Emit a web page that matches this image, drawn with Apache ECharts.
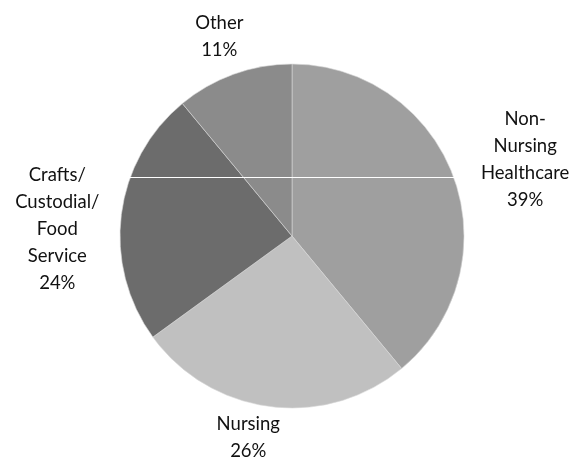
<!DOCTYPE html>
<html>
<head>
<meta charset="utf-8">
<script src="https://cdn.jsdelivr.net/npm/echarts@6/dist/echarts.min.js"></script>
<style>
html,body{margin:0;padding:0;background:#fff;}
#chart{width:576px;height:462px;}
</style>
</head>
<body>
<div id="chart"></div>
<script>
// Data
var categories = ['Non-\nNursing\nHealthcare', 'Nursing', 'Crafts/\nCustodial/\nFood\nService', 'Other'];
var values = [39, 26, 24, 11];
var colors = ['#9f9f9f', '#c0c0c0', '#6c6c6c', '#8b8b8b'];

// Layout
var CX = 292, CY = 236, R = 172, GAP = 14;
var nudges = [[14, 2], [-17, -10], [-8, 22], [0, 3]];

var total = values.reduce(function (a, b) { return a + b; }, 0);
function midAngle(i) {
  var before = 0;
  for (var k = 0; k < i; k++) before += values[k];
  return (before + values[i] / 2) / total * 2 * Math.PI; // clockwise from 12 o'clock
}

var chart = echarts.init(document.getElementById('chart'), null, {renderer: 'canvas'});
chart.setOption({
  animation: false,
  backgroundColor: '#ffffff',
  series: [{
    type: 'pie',
    center: [CX, CY],
    radius: R,
    startAngle: 90,
    clockwise: true,
    avoidLabelOverlap: false,
    data: categories.map(function (c, i) {
      return {name: c, value: values[i], itemStyle: {color: colors[i]}};
    }),
    itemStyle: {borderWidth: 0.6, borderColor: '#d8d8d8'},
    label: {
      show: true,
      position: 'outside',
      formatter: '{b}\n{c}%',
      fontFamily: 'Lato, "Open Sans", sans-serif',
      fontSize: 18.5,
      lineHeight: 27,
      color: '#111',
      align: 'center'
    },
    labelLine: {show: false},
    labelLayout: function (p) {
      var i = p.dataIndex;
      var a = midAngle(i);
      var sx = Math.sin(a), sy = -Math.cos(a);
      var w = p.labelRect.width / 2, h = p.labelRect.height / 2;
      var t = Math.min(Math.abs(sx) > 1e-6 ? w / Math.abs(sx) : 1e9,
                       Math.abs(sy) > 1e-6 ? h / Math.abs(sy) : 1e9);
      var d = R + GAP + t;
      return {
        x: CX + sx * d + nudges[i][0],
        y: CY + sy * d + nudges[i][1],
        align: 'center',
        verticalAlign: 'middle'
      };
    },
    emphasis: {disabled: true}
  }],
  graphic: [{
    type: 'line',
    shape: {x1: 120, y1: 177.5, x2: 465, y2: 177.5},
    style: {stroke: '#ffffff', lineWidth: 1},
    z: 100
  }]
});
</script>
</body>
</html>
